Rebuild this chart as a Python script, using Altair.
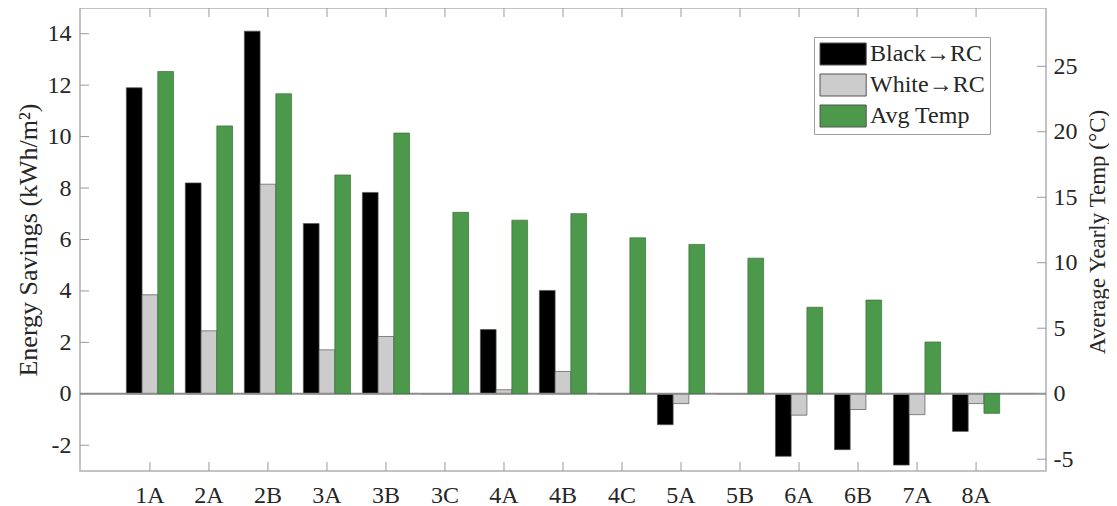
import altair as alt
import pandas as pd

categories = ["1A", "2A", "2B", "3A", "3B", "3C", "4A", "4B", "4C", "5A", "5B", "6A", "6B", "7A", "8A"]
black_rc = [11.9, 8.2, 14.1, 6.62, 7.83, 0, 2.5, 4.02, 0, -1.2, 0, -2.43, -2.17, -2.77, -1.46]
white_rc = [3.85, 2.45, 8.15, 1.71, 2.23, 0, 0.16, 0.87, 0, -0.38, 0, -0.83, -0.61, -0.81, -0.38]
avg_temp = [24.6, 20.45, 22.9, 16.7, 19.9, 13.85, 13.25, 13.75, 11.9, 11.4, 10.35, 6.6, 7.15, 3.95, -1.5]

series = ["Black\u2192RC", "White\u2192RC", "Avg Temp"]
colors = ["#000000", "#cccccc", "#4c994c"]

left_ticks = [-2, 0, 2, 4, 6, 8, 10, 12, 14]
right_ticks = [-5, 0, 5, 10, 15, 20, 25]
left_domain = [-3, 15]
right_domain = [-5.9, 29.45]

FONT = "Liberation Serif"
TXT = "#262626"
TICK = "#9a9a9a"
W, H = 966, 463
NEG = "datum.value < 0 ? '-' + abs(datum.value) : '' + datum.value"

savings = pd.DataFrame(
    [{"category": c, "series": series[0], "value": v} for c, v in zip(categories, black_rc)]
    + [{"category": c, "series": series[1], "value": v} for c, v in zip(categories, white_rc)]
)
temps = pd.DataFrame({"category": categories, "series": series[2], "temp": avg_temp})
cat_df = pd.DataFrame({"category": categories})
lt_df = pd.DataFrame({"value": left_ticks})
rt_df = pd.DataFrame({"temp": right_ticks})
zero_df = pd.DataFrame({"value": [0]})

x_enc = alt.X(
    "category:N", sort=categories,
    scale=alt.Scale(paddingInner=0.2, paddingOuter=0.785),
    axis=alt.Axis(title=None, labelAngle=0, ticks=False, domain=False, grid=False,
                  labelPadding=12, labelFont=FONT, labelFontSize=24, labelColor=TXT),
)
xoff = alt.XOffset("series:N", scale=alt.Scale(domain=series, paddingInner=0, paddingOuter=0))
color = alt.Color(
    "series:N", scale=alt.Scale(domain=series, range=colors),
    legend=alt.Legend(
        title=None, orient="none", legendX=734, legendY=29,
        fillColor="white", strokeColor="#a0a0a0", padding=5,
        symbolType="M-1,-1L3.2,-1L3.2,1L-1,1Z", symbolSize=484,
        symbolStrokeColor="#555555", symbolStrokeWidth=1, symbolOpacity=1,
        labelFont=FONT, labelFontSize=24, labelColor=TXT, labelOffset=27,
        rowPadding=5,
    ),
)
y_left = alt.Y(
    "value:Q", scale=alt.Scale(domain=left_domain, nice=False, zero=False),
    axis=alt.Axis(title="Energy Savings (kWh/m\u00b2)", values=left_ticks, ticks=False, domain=False,
                  grid=False, labelPadding=9, labelFont=FONT, labelFontSize=24, labelColor=TXT,
                  labelExpr=NEG,
                  titleFont=FONT, titleFontSize=26, titleColor=TXT, titleFontWeight="normal",
                  titleAngle=270, titleBaseline="middle", titleX=-52, titleY=H / 2),
)
y_right = alt.Y(
    "temp:Q", scale=alt.Scale(domain=right_domain, nice=False, zero=False),
    axis=alt.Axis(orient="right", title="Average Yearly Temp (\u00b0C)", values=right_ticks, ticks=False,
                  domain=False, grid=False, labelPadding=7, labelFont=FONT, labelFontSize=24,
                  labelColor=TXT, labelExpr=NEG, titleFont=FONT, titleFontSize=23, titleColor=TXT,
                  titleFontWeight="normal", titleAngle=270, titleBaseline="middle",
                  titleX=51, titleY=H / 2 - 8),
)

bars_left = alt.Chart(savings).mark_bar(stroke="#555555", strokeWidth=0.7).encode(
    x=x_enc, xOffset=xoff, y=y_left, color=color
)
ticks_left = alt.Chart(lt_df).mark_rule(color=TICK, strokeWidth=1).encode(
    y=y_left, x=alt.value(0), x2=alt.value(9)
)
zero_line = alt.Chart(zero_df).mark_rule(color="#8c8c8c", strokeWidth=2).encode(
    y=y_left, x=alt.value(0), x2=alt.value(W)
)
xt_bottom = alt.Chart(cat_df).mark_rule(color=TICK, strokeWidth=1).encode(
    x=x_enc, y=alt.value(H), y2=alt.value(H - 9)
)
xt_top = alt.Chart(cat_df).mark_rule(color=TICK, strokeWidth=1).encode(
    x=x_enc, y=alt.value(0), y2=alt.value(9)
)

bars_right = alt.Chart(temps).mark_bar(stroke="#3a6e3a", strokeWidth=0.7).encode(
    x=x_enc, xOffset=xoff, y=y_right, color=color
)
ticks_right = alt.Chart(rt_df).mark_rule(color=TICK, strokeWidth=1).encode(
    y=y_right, x=alt.value(W), x2=alt.value(W - 9)
)

left_layer = alt.layer(bars_left, ticks_left, xt_bottom, xt_top, zero_line)
right_layer = alt.layer(bars_right, ticks_right)

chart = (
    alt.layer(left_layer, right_layer)
    .resolve_scale(y="independent")
    .properties(
        width=W, height=H,
        padding={"left": 72, "top": 0, "right": 63, "bottom": 36},
        autosize=alt.AutoSizeParams(type="none"),
    )
    .configure_view(stroke="#b0b0b0", strokeWidth=1.5)
)

chart.save("out.html", embed_options={"renderer": "svg", "actions": False})
